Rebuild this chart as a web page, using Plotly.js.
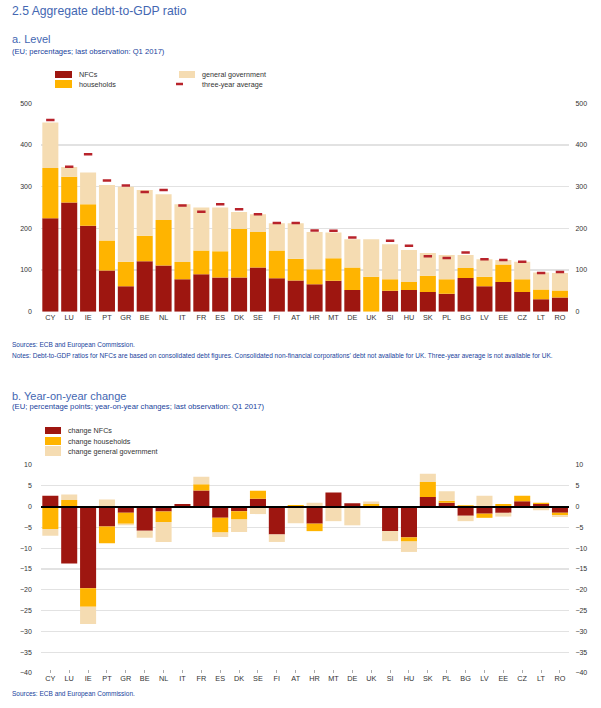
<!DOCTYPE html>
<html>
<head>
<meta charset="utf-8">
<script src="https://cdn.plot.ly/plotly-3.0.1.min.js"></script>
<style>html,body{margin:0;padding:0;background:#fff;}#chart{width:601px;height:708px;}</style>
</head>
<body>
<div id="chart"></div>
<script>
// ---------- data ----------
const countries = ['CY','LU','IE','PT','GR','BE','NL','IT','FR','ES','DK','SE','FI','AT','HR','MT','DE','UK','SI','HU','SK','PL','BG','LV','EE','CZ','LT','RO'];

// panel a: level (percentages of GDP), stacked segments
const levelNFC = [224,262,206,99,61,121,111,78,90,82,82,106,80,75,66,74,52,0,50,52,47,43,81,61,71,47,30,34];
const levelHH  = [121,62,52,72,59,61,109,41,57,63,117,85,67,52,36,54,54,84,28,19,39,35,24,23,42,31,23,17];
const levelGov = [109,23,76,133,180,110,62,139,103,105,40,43,65,85,89,62,68,90,84,77,55,58,31,42,11,42,41,42];
const threeYearAvg = [460,348,378,315,303,287,292,255,240,258,246,234,213,213,195,194,178,null,170,158,133,129,142,126,124,120,93,95];

// panel b: year-on-year change (percentage points)
const changeNFC = [2.6,-13.7,-19.6,-4.8,-1.5,-5.8,-1.2,0.6,3.9,-2.7,-1.1,1.9,-6.7,0,-4.1,3.4,0.8,0,-5.9,-7.4,2.3,0.9,-2.2,-1.7,-1.5,1.3,0.6,-1.5];
const changeHH  = [-5.4,1.6,-4.5,-4.0,-2.6,0,-2.5,0,1.5,-3.5,-2.0,1.9,0,0.4,-1.8,0,0,0.6,0,-1.0,3.6,0.5,0.3,-1.0,0.6,1.3,0.3,-0.6];
const changeGov = [-1.6,1.3,-4.1,1.7,-0.4,-1.7,-4.8,0,1.8,-1.1,-3.0,-1.8,-1.8,-4.0,0.9,-3.5,-4.5,0.6,-2.4,-2.5,2.0,2.3,-1.3,2.6,-0.9,0,-0.9,-0.4];

const levelTicks = [0,100,200,300,400,500];
const changeTicks = [10,5,0,-5,-10,-15,-20,-25,-30,-35,-40];

const legendA = ['NFCs','households','general government','three-year average'];
const legendB = ['change NFCs','change households','change general government'];

// ---------- styling ----------
const C_NFC = '#9e1610', C_HH = '#ffb400', C_GOV = '#f5dcb2', C_AVG = '#b8232b';
const BLUE = '#4467b2', DBLUE = '#203f9c';
const FONT = 'Liberation Sans, Arial, sans-serif';
const W = 601, H = 708;
const px = x => x / W, py = y => 1 - y / H;
const catRange = [-0.5, countries.length - 0.5];

const traces = [
  {type:'bar', name:legendA[0], x:countries, y:levelNFC, xaxis:'x', yaxis:'y', marker:{color:C_NFC}, showlegend:false},
  {type:'bar', name:legendA[1], x:countries, y:levelHH,  xaxis:'x', yaxis:'y', marker:{color:C_HH}, showlegend:false},
  {type:'bar', name:legendA[2], x:countries, y:levelGov, xaxis:'x', yaxis:'y', marker:{color:C_GOV}, showlegend:false},
  {type:'scatter', mode:'markers', name:legendA[3], x:countries, y:threeYearAvg, xaxis:'x', yaxis:'y3',
   marker:{symbol:'line-ew', size:6, color:C_AVG, line:{color:C_AVG, width:2.5}}, showlegend:false},
  {type:'bar', name:legendB[0], x:countries, y:changeNFC, xaxis:'x2', yaxis:'y2', marker:{color:C_NFC}, showlegend:false},
  {type:'bar', name:legendB[1], x:countries, y:changeHH,  xaxis:'x2', yaxis:'y2', marker:{color:C_HH}, showlegend:false},
  {type:'bar', name:legendB[2], x:countries, y:changeGov, xaxis:'x2', yaxis:'y2', marker:{color:C_GOV}, showlegend:false},
  {type:'scatter', mode:'markers', x:countries, y:changeGov, xaxis:'x2', yaxis:'y4',
   marker:{opacity:0, size:1}, hoverinfo:'skip', showlegend:false}
];

const tickFont = {family:FONT, size:7, color:'#333'};
const catFont = {family:FONT, size:7.3, color:'#333'};
const xDomain = [px(40.9), px(569.4)];

const layout = {
  width:W, height:H,
  margin:{l:0,r:0,t:0,b:0},
  paper_bgcolor:'#fff', plot_bgcolor:'#fff',
  font:{family:FONT, color:'#333'},
  barmode:'relative', bargap:0.15,
  showlegend:false,
  xaxis:{domain:xDomain, anchor:'y', type:'category', range:catRange, tickfont:catFont, showgrid:false, ticks:'', zeroline:false, showline:false},
  yaxis:{domain:[py(311.7), py(103.3)], anchor:'x', range:[0,500], tickvals:levelTicks, tickfont:tickFont,
         showgrid:true, gridcolor:'#e2e2e2', gridwidth:1.2, zeroline:false, ticks:'', ticklabelstandoff:8},
  yaxis3:{overlaying:'y', side:'right', anchor:'x', range:[0,500], tickvals:levelTicks, tickfont:tickFont,
          showgrid:false, zeroline:false, ticks:'', ticklabelstandoff:5},
  xaxis2:{domain:xDomain, anchor:'y2', type:'category', range:catRange, tickfont:catFont, showgrid:false,
          ticks:'inside', ticklen:3, tickcolor:'#aaa', zeroline:false, showline:false},
  yaxis2:{domain:[py(673), py(465)], anchor:'x2', range:[-40,10], tickvals:changeTicks, tickfont:tickFont,
          showgrid:true, gridcolor:'#e2e2e2', gridwidth:1.2, zeroline:true, zerolinecolor:'#000', zerolinewidth:2,
          zerolinelayer:'above traces', ticks:'', ticklabelstandoff:8},
  yaxis4:{overlaying:'y2', side:'right', anchor:'x2', range:[-40,10], tickvals:changeTicks, tickfont:tickFont,
          showgrid:false, zeroline:false, ticks:'', ticklabelstandoff:5},
  shapes:[],
  annotations:[]
};

function note(text, x, y, size, color){
  layout.annotations.push({text:text, xref:'paper', yref:'paper', x:px(x), y:py(y), xanchor:'left', yanchor:'middle',
    showarrow:false, font:{family:FONT, size:size, color:color}, borderpad:0});
}
function swatch(x0,y0,x1,y1,color){
  layout.shapes.push({type:'rect', xref:'paper', yref:'paper', x0:px(x0), x1:px(x1), y0:py(y1), y1:py(y0),
    fillcolor:color, line:{width:0}});
}

// titles
note('2.5 Aggregate debt-to-GDP ratio', 11, 11, 12.2, BLUE);
note('a. Level', 11, 39, 11, BLUE);
note('(EU; percentages; last observation: Q1 2017)', 11, 51, 7.6, DBLUE);

// legend a
swatch(55,71,72,78,C_NFC); note(legendA[0], 78, 74.5, 7.2, '#333');
swatch(55,80,72,88,C_HH);  note(legendA[1], 78, 84, 7.2, '#333');
swatch(179,71,195,78,C_GOV); note(legendA[2], 201, 74.5, 7.2, '#333');
layout.shapes.push({type:'line', xref:'paper', yref:'paper', x0:px(176), x1:px(183), y0:py(84), y1:py(84), line:{color:C_AVG, width:2.5}});
note(legendA[3], 201, 84, 7.2, '#333');

// sources a
note('Sources: ECB and European Commission.', 11, 345, 6.5, DBLUE);
note("Notes: Debt-to-GDP ratios for NFCs are based on consolidated debt figures. Consolidated non-financial corporations' debt not available for UK. Three-year average is not available for UK.", 11, 355.5, 6.55, DBLUE);

// panel b titles
note('b. Year-on-year change', 11, 396, 11, BLUE);
note('(EU; percentage points; year-on-year changes; last observation: Q1 2017)', 11, 406.5, 7.7, DBLUE);

// legend b
swatch(45,427,61,434,C_NFC); note(legendB[0], 67, 430.5, 7.2, '#333');
swatch(45,437,61,445,C_HH);  note(legendB[1], 67, 441, 7.2, '#333');
swatch(45,446,61,456,C_GOV); note(legendB[2], 67, 451, 7.2, '#333');

note('Sources: ECB and European Commission.', 11, 694, 6.5, DBLUE);

Plotly.newPlot('chart', traces, layout, {displayModeBar:false, staticPlot:true});
</script>
</body>
</html>
